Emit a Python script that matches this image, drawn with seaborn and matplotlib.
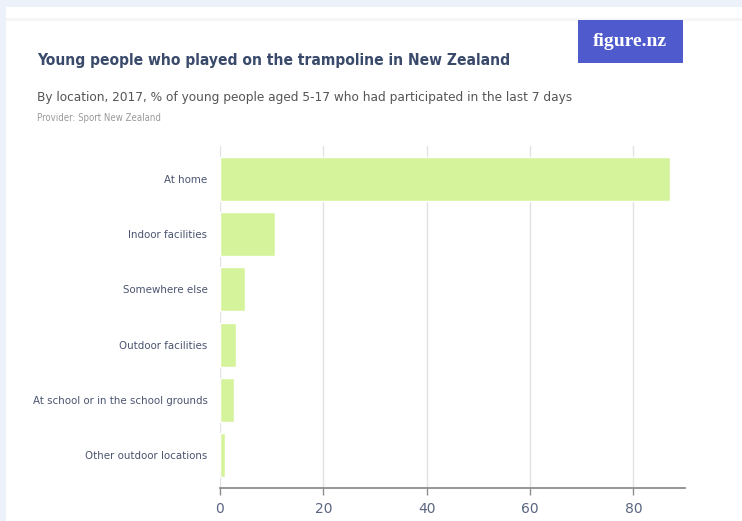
import matplotlib
matplotlib.use("Agg")
import matplotlib.pyplot as plt
from matplotlib.patches import Rectangle
import seaborn as sns
import pandas as pd

locations = [
    "At home",
    "Indoor facilities",
    "Somewhere else",
    "Outdoor facilities",
    "At school or in the school grounds",
    "Other outdoor locations",
]
percent = [87.0, 10.6, 4.9, 3.1, 2.8, 1.0]
x_ticks = [0, 20, 40, 60, 80]

df = pd.DataFrame({"location": locations, "percent": percent})

sns.set_theme(style="white")
plt.rcParams["font.family"] = ["DejaVu Sans"]
plt.rcParams["font.stretch"] = "condensed"

W, H = 742, 521
fig = plt.figure(figsize=(W / 100, H / 100), dpi=100)
fig.patch.set_facecolor("#edf2fa")

# white card behind the chart, with a faint shadow under its header strip
fig.add_artist(Rectangle((6 / W, 0), 1, 1 - 7 / H, transform=fig.transFigure,
                         facecolor="white", edgecolor="none", zorder=-10))
fig.add_artist(Rectangle((6 / W, 1 - 21 / H), 1, 3 / H, transform=fig.transFigure,
                         facecolor="#f6f6f7", edgecolor="none", zorder=-9))

ax = fig.add_axes([220 / W, 1 - 488 / H, 465 / W, (488 - 146) / H])
ax.set_facecolor("white")
ax.set_zorder(1)

sns.barplot(data=df, x="percent", y="location", orient="h", color="#d5f39b",
            width=0.8, saturation=1, ax=ax, zorder=2)

ax.set_xlim(0, 90)
ax.set_ylim(5.6, -0.6)
ax.set_xticks(x_ticks)
ax.set_xticklabels([str(t) for t in x_ticks], fontstretch="normal")
ax.grid(axis="x", color="#e2e2e2", linewidth=1, zorder=0)
ax.grid(axis="y", visible=False)
ax.set_axisbelow(True)
for side in ["top", "right", "left"]:
    ax.spines[side].set_visible(False)
ax.spines["bottom"].set_color("#8d8d8d")
ax.spines["bottom"].set_linewidth(1.3)
ax.tick_params(axis="x", length=5, width=1, color="#8d8d8d", labelcolor="#5a6581",
               labelsize=10, pad=5, bottom=True)
ax.tick_params(axis="y", length=0, labelcolor="#4a5470", labelsize=8.2, pad=9)
ax.set_xlabel("")
ax.set_ylabel("")

fig.text(37 / W, 1 - 60 / H, "Young people who played on the trampoline in New Zealand",
         fontsize=11.2, fontweight="bold", color="#3a4a6b", va="center", ha="left")
fig.text(37 / W, 1 - 97 / H,
         "By location, 2017, % of young people aged 5-17 who had participated in the last 7 days",
         fontsize=9.7, color="#555555", va="center", ha="left")
fig.text(37 / W, 1 - 118 / H, "Provider: Sport New Zealand",
         fontsize=6.9, color="#9a9a9a", va="center", ha="left")

# figure.nz badge
fig.add_artist(Rectangle((578 / W, 1 - 63 / H), 105 / W, 43 / H,
                         transform=fig.transFigure, facecolor="#4f5acd",
                         edgecolor="none", zorder=1))
fig.text(630 / W, 1 - 42 / H, "figure.nz", fontsize=14, color="white",
         family=["Liberation Serif", "DejaVu Serif"], fontweight="bold",
         fontstretch="normal", va="center", ha="center", zorder=2)

fig.savefig("out.png", dpi=100, facecolor=fig.get_facecolor())
